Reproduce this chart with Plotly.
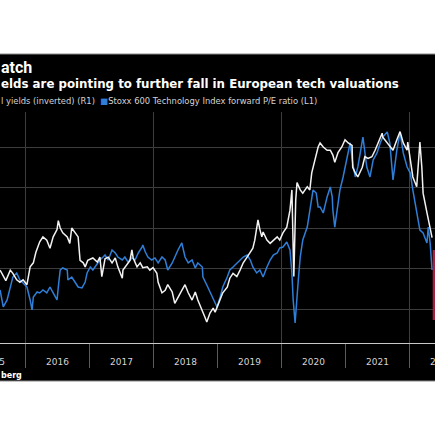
import plotly.graph_objects as go

# US real yields (inverted, right axis)
yield_t = [2015.61, 2015.66, 2015.70, 2015.77, 2015.81, 2015.87, 2015.92, 2015.97, 2016.03, 2016.08,
           2016.13, 2016.17, 2016.23, 2016.28, 2016.34, 2016.39, 2016.44, 2016.50, 2016.52, 2016.55,
           2016.59, 2016.66, 2016.70, 2016.73, 2016.78, 2016.83, 2016.86, 2016.91, 2016.94, 2016.98,
           2017.06, 2017.13, 2017.17, 2017.20, 2017.25, 2017.30, 2017.36, 2017.41, 2017.45, 2017.52,
           2017.53, 2017.59, 2017.64, 2017.67, 2017.69, 2017.75, 2017.80, 2017.84, 2017.91, 2017.95,
           2018.00, 2018.06, 2018.08, 2018.14, 2018.19, 2018.23, 2018.30, 2018.34, 2018.39, 2018.45,
           2018.50, 2018.55, 2018.61, 2018.66, 2018.70, 2018.77, 2018.81, 2018.84, 2018.89, 2018.94,
           2018.97, 2019.00, 2019.05, 2019.09, 2019.16, 2019.20, 2019.25, 2019.31, 2019.36, 2019.41,
           2019.47, 2019.52, 2019.56, 2019.59, 2019.62, 2019.64, 2019.67, 2019.70, 2019.72, 2019.78,
           2019.83, 2019.88, 2019.94, 2019.98, 2020.03, 2020.09, 2020.11, 2020.14, 2020.17, 2020.20,
           2020.23, 2020.25, 2020.30, 2020.34, 2020.41, 2020.45, 2020.48, 2020.53, 2020.58, 2020.61,
           2020.66, 2020.72, 2020.77, 2020.81, 2020.84, 2020.89, 2020.95, 2021.00, 2021.05, 2021.11,
           2021.12, 2021.16, 2021.20, 2021.27, 2021.31, 2021.36, 2021.42, 2021.47, 2021.52, 2021.58,
           2021.59, 2021.66, 2021.70, 2021.75, 2021.81, 2021.86, 2021.91, 2021.97, 2021.98, 2022.02,
           2022.06, 2022.12, 2022.14, 2022.17, 2022.20, 2022.22, 2022.28, 2022.30, 2022.33, 2022.36]
yield_v = [0.52, 0.59, 0.65, 0.52, 0.56, 0.64, 0.67, 0.64, 0.70, 0.48,
           0.43, 0.30, 0.17, 0.11, 0.15, 0.25, 0.11, 0.02, -0.09, 0.00,
           0.06, 0.11, 0.19, 0.00, 0.06, 0.11, 0.40, 0.43, 0.48, 0.40,
           0.37, 0.42, 0.36, 0.60, 0.38, 0.36, 0.43, 0.37, 0.48, 0.62,
           0.52, 0.46, 0.40, 0.27, 0.37, 0.48, 0.43, 0.49, 0.48, 0.52,
           0.49, 0.56, 0.67, 0.80, 0.77, 0.70, 0.79, 0.93, 0.85, 0.77,
           0.70, 0.80, 0.89, 0.79, 0.89, 1.01, 1.10, 1.16, 1.05, 0.99,
           1.04, 0.98, 0.89, 0.80, 0.73, 0.62, 0.56, 0.60, 0.52, 0.43,
           0.36, 0.30, 0.25, 0.15, -0.01, -0.10, 0.02, 0.11, 0.05, 0.15,
           0.19, 0.15, 0.11, 0.15, 0.06, -0.01, -0.10, -0.22, -0.47, 0.60,
           -0.35, -0.56, -0.47, -0.43, -0.51, -0.47, -0.68, -0.84, -1.00, -1.05,
           -1.00, -0.96, -0.96, -0.90, -0.81, -0.93, -1.00, -1.09, -1.05, -1.02,
           -0.75, -0.68, -0.63, -0.75, -0.88, -0.86, -0.88, -0.96, -1.05, -1.17,
           -1.12, -1.05, -1.00, -0.96, -1.09, -1.19, -1.05, -0.96, -1.06, -0.86,
           -0.63, -0.51, -0.75, -1.06, -0.75, -0.43, -0.19, -0.10, -0.01, 0.12]

# Stoxx 600 tech forward P/E (left axis)
pe_t = [2015.61, 2015.66, 2015.72, 2015.77, 2015.81, 2015.87, 2015.92, 2015.97, 2016.03, 2016.08,
        2016.11, 2016.13, 2016.19, 2016.23, 2016.28, 2016.34, 2016.39, 2016.44, 2016.50, 2016.52,
        2016.55, 2016.59, 2016.66, 2016.67, 2016.73, 2016.78, 2016.83, 2016.89, 2016.94, 2016.97,
        2017.02, 2017.06, 2017.13, 2017.17, 2017.22, 2017.25, 2017.30, 2017.36, 2017.41, 2017.45,
        2017.52, 2017.56, 2017.61, 2017.67, 2017.72, 2017.77, 2017.83, 2017.84, 2017.88, 2017.92,
        2017.98, 2018.03, 2018.08, 2018.14, 2018.19, 2018.23, 2018.30, 2018.34, 2018.39, 2018.45,
        2018.50, 2018.55, 2018.61, 2018.66, 2018.70, 2018.77, 2018.78, 2018.84, 2018.89, 2018.94,
        2019.00, 2019.05, 2019.09, 2019.16, 2019.20, 2019.25, 2019.31, 2019.36, 2019.41, 2019.47,
        2019.52, 2019.56, 2019.62, 2019.67, 2019.72, 2019.78, 2019.83, 2019.88, 2019.94, 2019.98,
        2020.03, 2020.09, 2020.14, 2020.17, 2020.19, 2020.22, 2020.25, 2020.27, 2020.30, 2020.34,
        2020.41, 2020.45, 2020.48, 2020.50, 2020.55, 2020.58, 2020.61, 2020.66, 2020.72, 2020.77,
        2020.80, 2020.81, 2020.84, 2020.88, 2020.92, 2020.97, 2021.03, 2021.08, 2021.12, 2021.16,
        2021.20, 2021.27, 2021.28, 2021.34, 2021.39, 2021.44, 2021.50, 2021.55, 2021.59, 2021.66,
        2021.70, 2021.75, 2021.81, 2021.86, 2021.91, 2021.97, 2022.02, 2022.06, 2022.12, 2022.17,
        2022.22, 2022.28, 2022.30, 2022.33, 2022.36]
pe_v = [16.41, 15.15, 15.67, 16.63, 17.37, 17.67, 17.15, 16.93, 16.63, 15.67,
        14.93, 15.89, 16.26, 16.19, 16.41, 16.19, 16.63, 16.19, 15.67, 16.63,
        17.89, 18.04, 17.89, 17.15, 17.37, 17.00, 16.63, 16.56, 17.00, 17.67,
        18.11, 17.89, 18.41, 18.63, 18.85, 19.00, 18.63, 19.37, 19.15, 18.85,
        18.63, 18.85, 18.48, 18.78, 18.63, 19.15, 19.59, 19.74, 19.22, 18.85,
        18.63, 18.78, 18.41, 18.85, 18.63, 17.89, 18.41, 18.85, 19.37, 19.89,
        18.85, 18.41, 18.63, 18.04, 18.41, 18.11, 17.37, 16.78, 16.26, 15.81,
        15.15, 15.89, 16.63, 17.37, 17.89, 18.11, 18.41, 18.63, 18.85, 19.00,
        18.63, 18.11, 17.67, 17.89, 17.37, 18.11, 18.63, 19.00, 19.15, 19.52,
        19.59, 19.96, 19.37, 17.67, 15.67, 13.96, 16.19, 17.15, 18.85, 20.11,
        21.07, 22.33, 23.30, 23.81, 23.59, 22.56, 22.56, 22.11, 23.30, 24.04,
        23.30, 22.33, 21.07, 22.33, 23.81, 24.78, 26.26, 27.30, 25.81, 24.78,
        25.52, 27.52, 27.74, 25.52, 24.78, 26.04, 26.56, 27.30, 27.74, 28.11,
        27.30, 24.56, 26.78, 28.04, 26.56, 25.52, 25.07, 23.81, 22.33, 20.85,
        20.63, 19.89, 21.07, 19.89, 17.89]

years = [2015, 2016, 2017, 2018, 2019, 2020, 2021, 2022]

BLUE = "#2f7fd8"
GRID = "#3d3d3d"
FONT = "DejaVu Sans"
X0, X1 = 2015.609, 2022.406

fig = go.Figure()
fig.add_trace(go.Scatter(x=yield_t, y=yield_v, yaxis="y2", mode="lines",
                         line=dict(color="#f2f2f2", width=1.5), name="real yields (inverted)"))
fig.add_trace(go.Scatter(x=pe_t, y=pe_v, mode="lines",
                         line=dict(color=BLUE, width=1.5), name="Stoxx 600 Technology forward P/E"))

# plot area spans y px 112..343 (231 px tall); helper for paper coords
def py(px):
    return (343 - px) / 231

annos = [
    dict(text="<b>atch</b>", x=0, y=py(67), font=dict(size=16, color="white", family="Roboto")),
    dict(text="<b>elds are pointing to further fall in European tech valuations</b>",
         x=0, y=py(84), font=dict(size=11.8, color="white")),
    dict(text="l yields (inverted) (R1)  <span style='color:%s'>■</span>Stoxx 600 Technology Index forward P/E ratio (L1)" % BLUE,
         x=0, y=py(101), font=dict(size=8.4, color="#d4d4d4")),
    dict(text="<b>berg</b>", x=0, y=py(375), font=dict(size=8, color="white")),
]
for a in annos:
    a.update(xref="paper", yref="paper", xanchor="left", yanchor="middle",
             showarrow=False, xshift=-1)
# year labels sit mid-year; the first and last are cut by the frame as in the source
for yr in years:
    annos.append(dict(text=str(yr), x=(yr + 0.5 - X0) / (X1 - X0), xref="paper",
                      y=py(362), yref="paper", showarrow=False,
                      xanchor="center", yanchor="middle",
                      font=dict(size=9, color="#d4d4d4")))

fig.update_layout(
    width=435, height=435,
    margin=dict(l=0, r=0, t=112, b=92),
    paper_bgcolor="white", plot_bgcolor="black",
    font=dict(family=FONT),
    showlegend=False,
    annotations=annos,
    shapes=[
        dict(type="rect", xref="paper", yref="paper", x0=-0.01, x1=1.01,
             y0=py(381), y1=py(54), fillcolor="black", line=dict(color="#8a8a8a", width=1),
             layer="below"),
        dict(type="rect", xref="paper", yref="paper", x0=432.7 / 435, x1=1.01,
             y0=py(320), y1=py(250), fillcolor="#a3213f", line=dict(width=0)),
    ],
    xaxis=dict(range=[X0, X1], tickmode="linear", tick0=2016, dtick=2,
               showgrid=True, gridcolor=GRID, gridwidth=1,
               ticks="outside", ticklen=24, tickcolor="#5a5a5a",
               showticklabels=False, showline=True, linecolor="#c8c8c8", zeroline=False,
               minor=dict(tick0=2015, dtick=1, ticks="outside", ticklen=24,
                          tickcolor="#5a5a5a", showgrid=False)),
    yaxis=dict(range=[12.481, 29.593], tickvals=[15, 18, 21, 24, 27],
               showgrid=True, gridcolor=GRID, showticklabels=False, zeroline=False),
    yaxis2=dict(range=[1.420, -1.432], overlaying="y", side="right",
                showgrid=False, showticklabels=False, zeroline=False),
)

# page body has a default 8px margin; drop it so the figure sits at the window corner
fig.write_html("out.html", config={"displayModeBar": False},
               post_script="document.body.style.margin='0';")
